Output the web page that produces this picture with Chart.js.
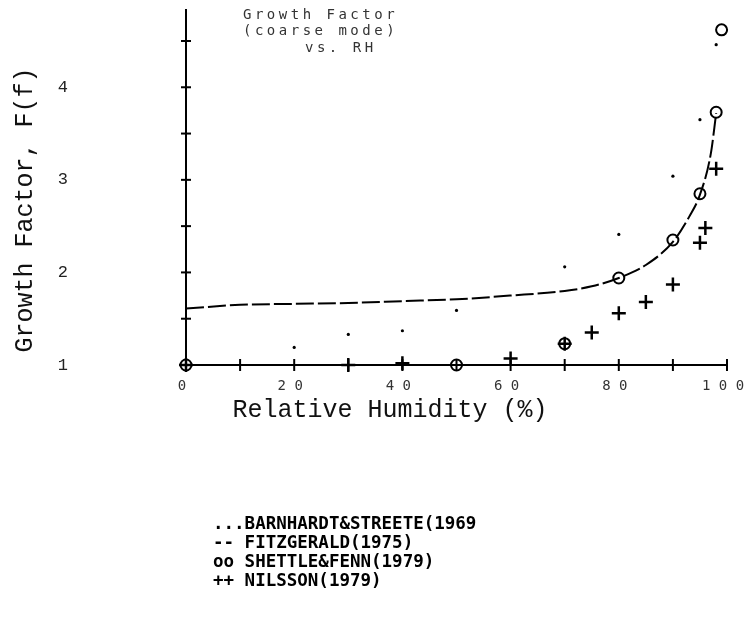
<!DOCTYPE html>
<html>
<head>
<meta charset="utf-8">
<script src="https://cdn.jsdelivr.net/npm/chart.js@4"></script>
<style>
  body { margin: 0; background: #fff; }
  #wrap { width: 747px; height: 617px; }
</style>
</head>
<body>
<div id="wrap"><canvas id="growthChart" width="747" height="617"></canvas></div>
<script>
// Relative humidity (%) and growth factor F(f)
const rhFitz = [0, 10, 20, 30, 40, 50, 60, 70, 75, 80, 85, 90, 93, 95, 97, 98];
const gfFitz = [1.61, 1.65, 1.66, 1.67, 1.69, 1.71, 1.75, 1.80, 1.85, 1.94, 2.08, 2.33, 2.60, 2.84, 3.28, 3.72];

const rhBarn = [20, 30, 40, 50, 70, 80, 90, 95, 98];
const gfBarn = [1.19, 1.33, 1.37, 1.59, 2.06, 2.41, 3.04, 3.65, 4.46];

const rhShet = [0, 50, 70, 80, 90, 95, 98, 99];
const gfShet = [1.0, 1.0, 1.23, 1.94, 2.35, 2.85, 3.73, 4.62];

const rhNils = [0, 30, 40, 60, 70, 75, 80, 85, 90, 95, 96, 98];
const gfNils = [1.0, 1.0, 1.02, 1.07, 1.23, 1.35, 1.56, 1.68, 1.87, 2.32, 2.48, 3.12];

const xTicks = [0, 20, 40, 60, 80, 100];
const yTickLabels = [1, 2, 3, 4];

const titleLines = ['Growth Factor', '(coarse mode)', 'vs. RH'];
const legendLines = [
    '...BARNHARDT&STREETE(1969',
    '-- FITZGERALD(1975)',
    'oo SHETTLE&FENN(1979)',
    '++ NILSSON(1979)'
];

function toPoints(xs, ys) {
    return xs.map((x, i) => ({ x: x, y: ys[i] }));
}

// no extra padding from the scales, the chart area is set by afterFit + layout
function noScalePadding(scale) {
    scale.paddingTop = 0;
    scale.paddingBottom = 0;
    scale.paddingLeft = 0;
    scale.paddingRight = 0;
}

// small crosses on both axes + all the free text
const decorPlugin = {
    id: 'decor',
    afterDraw(chart) {
        const ctx = chart.ctx;
        const xs = chart.scales.x;
        const ys = chart.scales.y;
        const area = chart.chartArea;

        ctx.save();
        ctx.strokeStyle = '#000';
        ctx.lineWidth = 2;
        // x axis ticks every 10
        for (let v = 0; v <= 100; v += 10) {
            const px = xs.getPixelForValue(v);
            ctx.beginPath();
            ctx.moveTo(px, area.bottom - 6);
            ctx.lineTo(px, area.bottom + 6);
            ctx.stroke();
        }
        // y axis ticks every 0.5
        for (let v = 1; v <= 4.5; v += 0.5) {
            const py = ys.getPixelForValue(v);
            ctx.beginPath();
            ctx.moveTo(area.left - 5, py);
            ctx.lineTo(area.left + 5, py);
            ctx.stroke();
        }

        // title inside the plot
        ctx.fillStyle = '#333';
        ctx.font = '14px "DejaVu Sans Mono"';
        ctx.letterSpacing = '3.5px';
        ctx.textBaseline = 'middle';
        ctx.textAlign = 'left';
        ctx.fillText(titleLines[0], 243, 15);
        ctx.fillText(titleLines[1], 243, 31);
        ctx.fillText(titleLines[2], 305, 48);
        ctx.letterSpacing = '0px';

        // axis titles
        ctx.fillStyle = '#111';
        ctx.font = '25px "Liberation Mono"';
        ctx.textAlign = 'center';
        ctx.fillText('Relative Humidity (%)', 390, 410);
        ctx.save();
        ctx.translate(25, 210);
        ctx.rotate(-Math.PI / 2);
        ctx.fillText('Growth Factor, F(f)', 0, 0);
        ctx.restore();

        // legend block
        ctx.fillStyle = '#000';
        ctx.font = 'bold 17.5px "DejaVu Sans Mono"';
        ctx.textAlign = 'left';
        legendLines.forEach((t, i) => {
            ctx.fillText(t, 213, 524 + i * 19);
        });
        ctx.restore();
    }
};

const ctx = document.getElementById('growthChart').getContext('2d');
new Chart(ctx, {
    type: 'scatter',
    data: {
        datasets: [
            {
                label: 'FITZGERALD(1975)',
                data: toPoints(rhFitz, gfFitz),
                showLine: true,
                borderColor: '#000',
                borderWidth: 2,
                borderDash: [18, 4],
                pointRadius: 0,
                cubicInterpolationMode: 'monotone',
                clip: false
            },
            {
                label: 'BARNHARDT&STREETE(1969)',
                data: toPoints(rhBarn, gfBarn),
                showLine: false,
                pointStyle: 'circle',
                pointRadius: 1.6,
                backgroundColor: '#000',
                borderColor: '#000',
                borderWidth: 0,
                clip: false
            },
            {
                label: 'SHETTLE&FENN(1979)',
                data: toPoints(rhShet, gfShet),
                showLine: false,
                pointStyle: 'circle',
                pointRadius: 5.5,
                backgroundColor: 'rgba(0,0,0,0)',
                borderColor: '#000',
                borderWidth: 2,
                clip: false
            },
            {
                label: 'NILSSON(1979)',
                data: toPoints(rhNils, gfNils),
                showLine: false,
                pointStyle: 'cross',
                pointRadius: 7,
                borderColor: '#000',
                borderWidth: 2.5,
                clip: false
            }
        ]
    },
    options: {
        responsive: false,
        animation: false,
        devicePixelRatio: 1,
        layout: { padding: { left: 0, right: 20, top: 0, bottom: 0 } },
        plugins: {
            legend: { display: false },
            tooltip: { enabled: false },
            title: { display: false }
        },
        scales: {
            x: {
                type: 'linear',
                min: 0,
                max: 100,
                afterFit: (scale) => {
                    scale.height = 252;
                    noScalePadding(scale);
                },
                afterBuildTicks: (scale) => {
                    scale.ticks = xTicks.map(v => ({ value: v }));
                },
                grid: { drawOnChartArea: false, drawTicks: false },
                border: { display: true, color: '#000', width: 2 },
                ticks: {
                    padding: 13,
                    maxRotation: 0,
                    labelOffset: -4,
                    color: '#333',
                    font: { family: '"DejaVu Sans Mono"', size: 14 },
                    callback: (v) => String(v).split('').join(' ')
                }
            },
            y: {
                type: 'linear',
                min: 1,
                max: 4.84,
                afterFit: (scale) => {
                    scale.width = 186;
                    noScalePadding(scale);
                },
                afterBuildTicks: (scale) => {
                    scale.ticks = yTickLabels.map(v => ({ value: v }));
                },
                grid: { drawOnChartArea: false, drawTicks: false },
                border: { display: true, color: '#000', width: 2 },
                ticks: {
                    padding: 118,
                    color: '#222',
                    font: { family: '"Liberation Mono"', size: 17 },
                    callback: (v) => String(v)
                }
            }
        }
    },
    plugins: [decorPlugin]
});
</script>
</body>
</html>
